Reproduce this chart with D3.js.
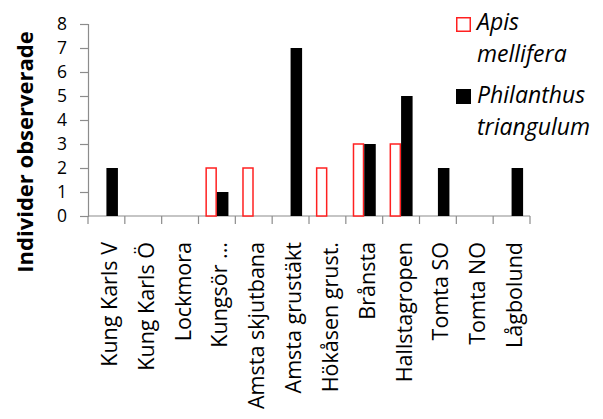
<!DOCTYPE html>
<html>
<head>
<meta charset="utf-8">
<script src="https://cdn.jsdelivr.net/npm/d3@7"></script>
<style>
  html, body { margin: 0; padding: 0; background: #fff; }
  svg { display: block; }
  text { font-family: "Open Sans", sans-serif; fill: #000; }
</style>
</head>
<body>
<svg id="chart" width="603" height="419"></svg>
<script>
// Observation sites
const sites = [
  "Kung Karls V", "Kung Karls Ö", "Lockmora", "Kungsör ...", "Amsta skjutbana",
  "Amsta grustäkt", "Hökåsen grust.", "Brånsta", "Hallstagropen", "Tomta SO",
  "Tomta NO", "Lågbolund"
];
// Number of individuals observed per site
const apisMellifera = [0, 0, 0, 2, 2, 0, 2, 3, 3, 0, 0, 0];
const philanthusTriangulum = [2, 0, 0, 1, 0, 7, 0, 3, 5, 2, 0, 2];
const yTicks = [0, 1, 2, 3, 4, 5, 6, 7, 8];

const svg = d3.select("#chart");
const plotLeft = 88, plotRight = 530, plotTop = 24, plotBottom = 216;
const gray = "#8c8c8c";

const x = d3.scaleBand().domain(sites).range([plotLeft, plotRight]).paddingInner(0).paddingOuter(0);
const y = d3.scaleLinear().domain([0, 8]).range([plotBottom, plotTop]);
const sub = d3.scaleBand().domain(["apis", "phil"]).range([0, x.bandwidth()])
  .paddingInner(0).paddingOuter(0.6);

// Y axis
const yAxis = svg.append("g").attr("transform", `translate(${plotLeft},0)`)
  .call(d3.axisLeft(y).tickValues(yTicks).tickSize(8).tickPadding(13).tickFormat(d3.format("d")));
yAxis.select(".domain").attr("stroke", gray).attr("stroke-width", 1.2);
yAxis.selectAll(".tick line").attr("stroke", gray).attr("stroke-width", 1.2);
yAxis.selectAll(".tick text").attr("font-size", 17.5).attr("font-family", "'Open Sans', sans-serif").attr("fill", "#000");

// X axis with ticks at band boundaries
const xAxisG = svg.append("g");
xAxisG.append("line").attr("x1", plotLeft).attr("x2", plotRight).attr("y1", plotBottom).attr("y2", plotBottom)
  .attr("stroke", gray).attr("stroke-width", 1.2);
xAxisG.selectAll("line.tk").data(d3.range(sites.length + 1)).join("line")
  .attr("class", "tk")
  .attr("x1", i => plotLeft + i * x.step()).attr("x2", i => plotLeft + i * x.step())
  .attr("y1", plotBottom).attr("y2", plotBottom + 8)
  .attr("stroke", gray).attr("stroke-width", 1.2);

xAxisG.selectAll("text.lbl").data(sites).join("text")
  .attr("class", "lbl")
  .attr("transform", d => `translate(${x(d) + x.bandwidth() / 2 + 3},${plotBottom + 26}) rotate(-90)`)
  .attr("text-anchor", "end")
  .attr("dy", "0.35em")
  .attr("font-size", 21.5)
  .text(d => d);

// Bars
const bars = svg.append("g");
bars.selectAll("rect.apis").data(sites).join("rect")
  .attr("class", "apis")
  .attr("x", (d, i) => x(d) + sub("apis") + 0.75)
  .attr("width", sub.bandwidth() - 1.5)
  .attr("y", (d, i) => y(apisMellifera[i]))
  .attr("height", (d, i) => y(0) - y(apisMellifera[i]))
  .attr("fill", "#fff").attr("stroke", "#ff2020").attr("stroke-width", 1.5)
  .attr("display", (d, i) => apisMellifera[i] > 0 ? null : "none");

bars.selectAll("rect.phil").data(sites).join("rect")
  .attr("class", "phil")
  .attr("x", (d, i) => x(d) + sub("phil"))
  .attr("width", sub.bandwidth())
  .attr("y", (d, i) => y(philanthusTriangulum[i]))
  .attr("height", (d, i) => y(0) - y(philanthusTriangulum[i]))
  .attr("fill", "#000")
  .attr("display", (d, i) => philanthusTriangulum[i] > 0 ? null : "none");

// Y axis title
svg.append("text")
  .attr("transform", `translate(33,152) rotate(-90)`)
  .attr("text-anchor", "middle")
  .attr("font-size", 22).attr("font-weight", "bold")
  .text("Individer observerade");

// Legend
const legend = svg.append("g");
legend.append("rect").attr("x", 456.75).attr("y", 17.75).attr("width", 13.5).attr("height", 13.5)
  .attr("fill", "#fff").attr("stroke", "#ff2020").attr("stroke-width", 1.5);
legend.append("rect").attr("x", 456).attr("y", 89).attr("width", 15).attr("height", 15)
  .attr("fill", "#000");
const legendText = [
  ["Apis", 30], ["mellifera", 62], ["Philanthus", 103], ["triangulum", 135]
];
legend.selectAll("text").data(legendText).join("text")
  .attr("x", 477)
  .attr("y", d => d[1])
  .attr("font-size", 23).attr("font-style", "italic")
  .text(d => d[0]);
</script>
</body>
</html>
